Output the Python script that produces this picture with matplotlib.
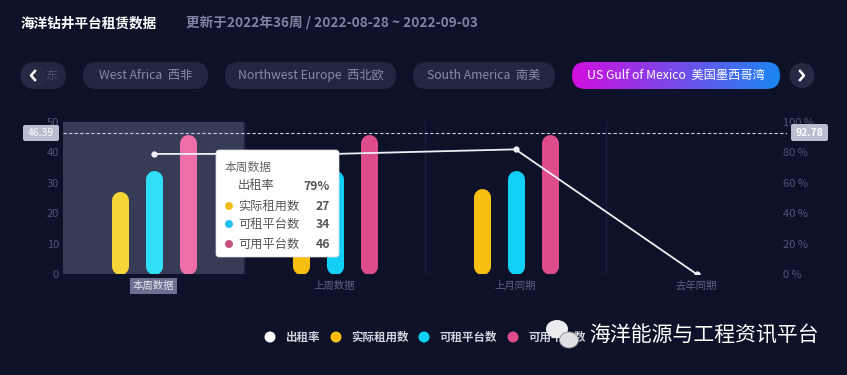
import numpy as np
import matplotlib
matplotlib.use('Agg')
import matplotlib.pyplot as plt
from matplotlib.patches import FancyBboxPatch, Ellipse, Circle
from matplotlib.colors import LinearSegmentedColormap

plt.rcParams['font.family'] = ['Noto Sans CJK SC', 'DejaVu Sans']

# data
categories = ['本周数据', '上周数据', '上月同期', '去年同期']
rent_rate = [79, 79, 82, 0]          # 出租率 %
actual_rented = [27, 27, 28, 0]      # 实际租用数
rentable = [34, 34, 34, 0]           # 可租平台数
available = [46, 46, 46, 0]          # 可用平台数
series_names = ['出租率', '实际租用数', '可租平台数', '可用平台数']
mark_left = 46.39
mark_right = 92.78
tabs = ['West Africa  西非', 'Northwest Europe  西北欧', 'South America  南美']
active_tab = 'US Gulf of Mexico  美国墨西哥湾'

bg = '#0e1229'
pill_col = '#22273f'
yellow, yellow_hi = '#f8bf12', '#f5d535'
cyan, cyan_hi = '#12d0f5', '#30e0f8'
pink, pink_hi = '#dc4b8a', '#ee6ea8'

fig = plt.figure(figsize=(8.47, 3.75), dpi=100)
fig.patch.set_facecolor(bg)

# main chart area (pixel box 63..787 x 122..274)
ax = fig.add_axes([63/847, 101/375, 724/847, 152/375])
ax.set_facecolor('none')
ax.set_xlim(0, 4)
ax.set_ylim(0, 50)
for s in ax.spines.values():
    s.set_visible(False)

# highlighted first category
ax.axvspan(0, 1, color='#373c56', zorder=0)
for x in [1, 2, 3]:
    ax.axvline(x, color='#1b213c', lw=0.8, zorder=0)
ax.axhline(0, color='#2c3250', lw=0.8, zorder=1)

# rounded bars, first category emphasised
px_per_unit = 152 / 50
bar_w = 17
r = bar_w / 2 / px_per_unit
offs = np.array([-34, 0, 34]) / 181
xs = np.arange(len(categories)) + 0.5
bar_series = [(actual_rented, yellow, yellow_hi),
              (rentable, cyan, cyan_hi),
              (available, pink, pink_hi)]
for (vals, col, col_hi), off in zip(bar_series, offs):
    for i, (x, v) in enumerate(zip(xs, vals)):
        if v <= 0:
            continue
        ax.plot([x + off, x + off], [r, v - r], color=col_hi if i == 0 else col,
                lw=bar_w * 0.72, solid_capstyle='round', zorder=3)

ax.set_yticks(range(0, 51, 10))
ax.tick_params(axis='y', length=0, labelsize=8, labelcolor='#4f5575', pad=3)
ax.set_xticks(xs)
ax.set_xticklabels(categories)
ax.tick_params(axis='x', length=0, labelsize=7.5, labelcolor='#5d6383', pad=5)
lab0 = ax.get_xticklabels()[0]
lab0.set_color('#e6e8f0')
lab0.set_bbox(dict(boxstyle='square,pad=0.25', fc='#6b7090', ec='none'))

ax2 = ax.twinx()
ax2.set_ylim(0, 100)
for s in ax2.spines.values():
    s.set_visible(False)
ax2.set_yticks(range(0, 101, 20))
ax2.set_yticklabels([f'{v} %' for v in range(0, 101, 20)])
ax2.tick_params(axis='y', length=0, labelsize=8, labelcolor='#4f5575', pad=-3)
ax2.plot(xs, rent_rate, color='#eef0f6', lw=1.3, marker='o', ms=3.5, zorder=5)
ax2.axhline(mark_right, color='#c9cde0', lw=0.8, ls=(0, (3, 2)), zorder=4)

# overlay for the page elements
ov = fig.add_axes([0, 0, 1, 1], zorder=10)
ov.set_facecolor('none')
ov.axis('off')

ov.text(21, 23, '海洋钻井平台租赁数据', color='white', fontsize=9.8,
        fontweight='bold', va='center')
ov.text(186, 23, '更新于2022年36周 / 2022-08-28 ~ 2022-09-03', color='#7d84a3',
        fontsize=9.8, fontweight='bold', va='center')

def pill(x0, x1, yc=75.5, h=27, col=pill_col):
    p = FancyBboxPatch((x0, yc - h/2), x1 - x0, h,
                       boxstyle=f'round,pad=0,rounding_size={h/2}',
                       fc=col, ec='none')
    ov.add_patch(p)
    return p

# left partial pill + arrow
pill(21, 66)
ov.text(45, 75.5, '东', color='#4d5373', fontsize=8.5, va='center')
ov.add_patch(Circle((33, 75.5), 12.5, fc='#262b43', ec='none'))
ov.plot([35, 31, 35], [71, 75.5, 80], color='white', lw=1.8)

tab_x = [(83, 208), (225, 396), (413, 555)]
for (x0, x1), t in zip(tab_x, tabs):
    pill(x0, x1)
    ov.text((x0 + x1) / 2, 75.5, t, color='#858ba9', fontsize=8.8,
            ha='center', va='center')

gp = pill(572, 780, col='none')
grad = np.linspace(0, 1, 256).reshape(1, -1)
cm = LinearSegmentedColormap.from_list('g', ['#d20ee0', '#1a86f2'])
im = ov.imshow(grad, cmap=cm, extent=[572, 780, 89, 62], aspect='auto', zorder=1)
im.set_clip_path(gp)
ov.text(676, 75.5, active_tab, color='white', fontsize=8.8, ha='center',
        va='center', zorder=2)

ov.add_patch(Circle((802, 75.5), 12.5, fc='#262b43', ec='none'))
ov.plot([800, 804, 800], [71, 75.5, 80], color='white', lw=1.8)

# mark labels of the dashed line
ov.add_patch(FancyBboxPatch((23, 125), 36, 16, boxstyle='round,pad=0,rounding_size=2',
                            fc='#b9bdd0', ec='none'))
ov.text(41, 133, f'{mark_left:.2f}', color='white', fontsize=7.5, ha='center', va='center')
ov.add_patch(FancyBboxPatch((791, 124), 37, 17, boxstyle='round,pad=0,rounding_size=2',
                            fc='#b9bdd0', ec='none'))
ov.text(809.5, 132.5, f'{mark_right:.2f}', color='white', fontsize=7.5,
        ha='center', va='center', fontweight='bold')

# tooltip
ov.add_patch(FancyBboxPatch((216, 150), 123, 107, boxstyle='round,pad=0,rounding_size=3',
                            fc='white', ec='#dddddd', lw=0.5, zorder=3))
ov.text(225, 167, categories[0], color='#666666', fontsize=8.5, va='center', zorder=4)
tip_vals = [f'{rent_rate[0]}%', str(actual_rented[0]), str(rentable[0]), str(available[0])]
tip_cols = [None, '#f2bd1c', '#1fc8ec', '#c94f80']
tip_y = [186, 206, 224, 244]
for name, val, col, y in zip(series_names, tip_vals, tip_cols, tip_y):
    if col is not None:
        ov.add_patch(Circle((229, y), 4, fc=col, ec='none', zorder=4))
    ov.text(238, y, name, color='#555555', fontsize=8.8, va='center', zorder=4)
    ov.text(330, y, val, color='#555555', fontsize=8.8, va='center', ha='right',
            fontweight='bold', zorder=4)

# legend
leg_dot_x = [270, 336, 424, 513]
leg_cols = ['#ffffff', yellow, cyan, pink]
for x, col, name in zip(leg_dot_x, leg_cols, series_names):
    ov.add_patch(Circle((x, 337), 5.5, fc=col, ec='none'))
    ov.text(x + 15, 337, name, color='#d0d3de', fontsize=8.3, va='center',
            fontweight='bold')

# watermark
ov.add_patch(Ellipse((557, 329), 22, 18, fc='#ececee', ec='none', zorder=5))
ov.add_patch(Ellipse((569, 340), 19, 16, fc='#e0e0e4', ec='#8a8a90', lw=0.6, zorder=5))
ov.text(589, 336, '海洋能源与工程资讯平台', color='white', fontsize=15, va='center', zorder=5)

ov.set_xlim(0, 847)
ov.set_ylim(375, 0)

fig.savefig('out.png', dpi=100, facecolor=bg)
